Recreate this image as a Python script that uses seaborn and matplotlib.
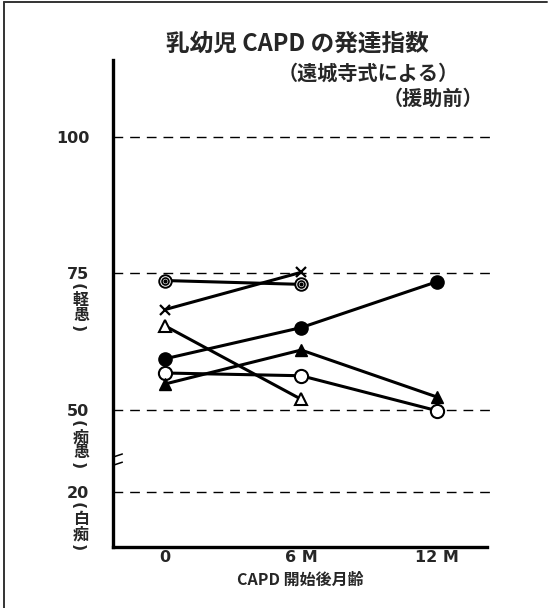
import numpy as np
import pandas as pd
import seaborn as sns
import matplotlib.pyplot as plt
from matplotlib.lines import Line2D
import matplotlib.transforms as mtransforms

# data (developmental quotient by months after CAPD start)
months = [0, 6, 12]
dq_filled_circle = [59.4, 65.1, 73.5]
dq_open_circle = [56.8, 56.3, 49.8]
dq_filled_triangle = [54.8, 61.0, 52.4]
dq_open_triangle = [65.4, 52.0]
dq_cross = [68.4, 75.2]
dq_double_circle = [73.7, 73.0]

y_ticks = [20, 50, 75, 100]
x_ticks = [0, 6, 12]
x_tick_labels = ['0', '6 M', '12 M']
band_labels = {75: ['軽', '愚'], 50: ['痴', '愚'], 20: ['白', '痴']}

series = {
    'filled_circle': dq_filled_circle,
    'open_circle': dq_open_circle,
    'filled_triangle': dq_filled_triangle,
    'open_triangle': dq_open_triangle,
    'cross': dq_cross,
    'double_circle': dq_double_circle,
}
rows = []
for name, vals in series.items():
    for m, v in zip(months, vals):
        rows.append({'child': name, 'month': m, 'dq': v})
df = pd.DataFrame(rows)

sns.set_style('white')
plt.rcParams['font.family'] = ['Noto Sans CJK JP', 'DejaVu Sans']

fig = plt.figure(figsize=(5.55, 6.08), dpi=100)
ax = fig.add_axes([0.2036, 0.1003, 0.674, 0.801])


# broken axis: below 50 the scale is compressed by half
def fwd(v):
    v = np.asarray(v, dtype=float)
    return np.where(v >= 50, v, 50 - (50 - v) * 0.5)


def inv(u):
    u = np.asarray(u, dtype=float)
    return np.where(u >= 50, u, 50 - (50 - u) * 2.0)


ax.set_yscale('function', functions=(fwd, inv))

# reference lines
for yv in y_ticks:
    ax.axhline(yv, xmin=0, xmax=1.01, color='black', lw=1.0,
               dashes=(7, 5), clip_on=False, zorder=1)

# lines per child
sns.lineplot(data=df, x='month', y='dq', units='child', estimator=None,
             color='black', lw=2.2, ax=ax, legend=False, zorder=2)

# markers
def mk(name, **kw):
    d = df[df['child'] == name]
    ax.plot(d['month'], d['dq'], ls='none', zorder=3, **kw)

mk('filled_circle', marker='o', ms=9.5, mfc='black', mec='black')
mk('open_circle', marker='o', ms=9.5, mfc='white', mec='black', mew=1.5)
mk('filled_triangle', marker='^', ms=8, mfc='black', mec='black')
mk('open_triangle', marker='^', ms=8, mfc='white', mec='black', mew=1.5)
mk('cross', marker='x', ms=7, mec='black', mew=1.6)
mk('double_circle', marker='o', ms=9, mfc='white', mec='black', mew=1.4)
mk('double_circle', marker='o', ms=5, mfc='white', mec='black', mew=1.2)
mk('double_circle', marker='o', ms=2, mfc='black', mec='black')

ax.set_xlim(-2.3, 14.2)
ax.set_ylim(0, 114)
ax.set_yticks(y_ticks)
ax.set_yticklabels([str(t) for t in y_ticks], fontsize=11.5, fontweight='bold',
                   family='DejaVu Sans')
ax.set_xticks(x_ticks)
ax.set_xticklabels(x_tick_labels, fontsize=11.5, fontweight='bold', family='DejaVu Sans')
ax.tick_params(axis='y', length=0, pad=17)
ax.tick_params(axis='x', length=0, pad=2)
ax.set_xlabel('CAPD 開始後月齢', fontsize=11.5, fontweight='bold', labelpad=5)
ax.set_ylabel('')

for s in ['top', 'right']:
    ax.spines[s].set_visible(False)
for s in ['left', 'bottom']:
    ax.spines[s].set_linewidth(2.4)
    ax.spines[s].set_color('black')

# band labels stacked vertically under each tick value
trans = mtransforms.blended_transform_factory(fig.transFigure, ax.transData)
for yv, chars in band_labels.items():
    items = [('(', 13, -90), (chars[0], 27, 0), (chars[1], 42, 0), (')', 55, -90)]
    for txt, off, rot in items:
        paren = txt in '()'
        ax.annotate(txt, xy=(81 / 555, yv), xycoords=trans,
                    xytext=(-4 * 0.72 if paren else 0, -off * 0.72),
                    textcoords='offset points',
                    ha='center', va='center', rotation=rot,
                    fontsize=11.5, fontweight='bold',
                    family='DejaVu Sans' if paren else None)

# axis break marks
btrans = mtransforms.blended_transform_factory(ax.transAxes, ax.transData)
for yv in (33.5, 30.5):
    ax.plot([0.003, 0.025], [yv - 0.5, yv + 0.5], transform=btrans,
            color='black', lw=1.1, clip_on=False, zorder=4)

# titles
fig.text(297 / 555, 1 - 44 / 608, '乳幼児 CAPD の発達指数', ha='center', va='center',
         fontsize=17, fontweight='bold')
fig.text(368 / 555, 1 - 73 / 608, '（遠城寺式による）', ha='center', va='center',
         fontsize=14.5, fontweight='bold')
fig.text(433 / 555, 1 - 98 / 608, '（援助前）', ha='center', va='center',
         fontsize=14.5, fontweight='bold')

# frame lines on left and top of the page
fig.add_artist(Line2D([0.008, 0.008], [0, 0.996], transform=fig.transFigure, color='#333333', lw=1.4))
fig.add_artist(Line2D([0.008, 0.985], [0.996, 0.996], transform=fig.transFigure, color='#333333', lw=1.4))

fig.savefig('out.png', dpi=100)
